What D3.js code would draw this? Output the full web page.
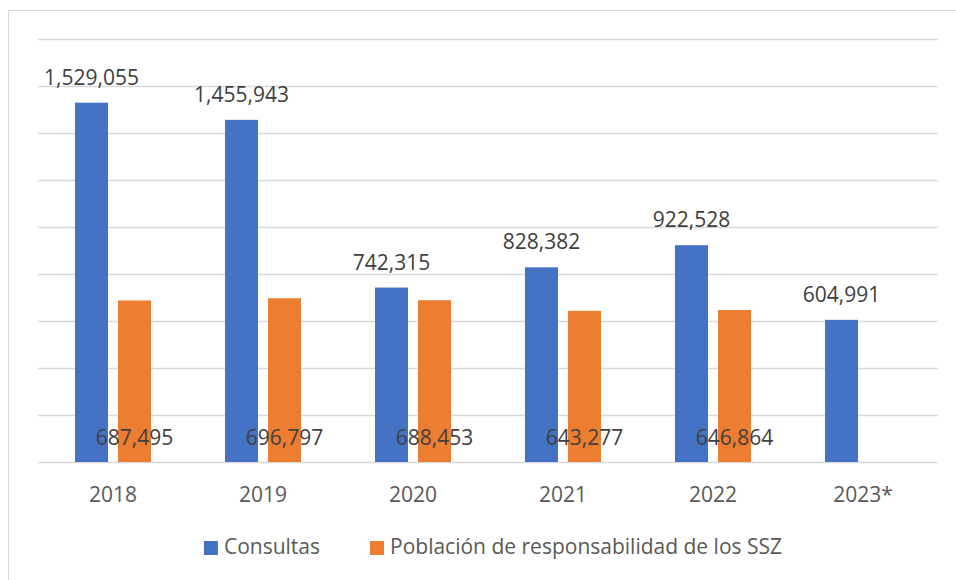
<!DOCTYPE html>
<html>
<head>
<meta charset="utf-8">
<script src="https://cdn.jsdelivr.net/npm/d3@7"></script>
<style>
  body { margin: 0; background: #fff; }
  text { font-family: "Open Sans", sans-serif; }
</style>
</head>
<body>
<div id="chart"></div>
<script>
// Data
const years = ["2018", "2019", "2020", "2021", "2022", "2023*"];
const consultas = [1529055, 1455943, 742315, 828382, 922528, 604991];
const poblacion = [687495, 696797, 688453, 643277, 646864, null];
const seriesNames = ["Consultas", "Población de responsabilidad de los SSZ"];
const colors = ["#4472c4", "#ed7d31"];

const width = 956;
const height = 580;
const margin = { top: 39, right: 18, bottom: 118, left: 38 };
const innerW = width - margin.left - margin.right;
const innerH = height - margin.top - margin.bottom;
const fontSize = "21px";

const svg = d3.select("#chart")
    .append("svg")
    .attr("width", width)
    .attr("height", height);

// outer frame
svg.append("rect")
    .attr("x", 8.5)
    .attr("y", 10.5)
    .attr("width", 1000)
    .attr("height", 1000)
    .attr("fill", "none")
    .attr("stroke", "#d9d9d9");

const g = svg.append("g")
    .attr("transform", `translate(${margin.left},${margin.top})`);

const x0 = d3.scaleBand()
    .domain(years)
    .range([0, innerW]);

const x1 = d3.scaleBand()
    .domain([0, 1])
    .range([0, x0.bandwidth()])
    .paddingInner(10 / 43)
    .paddingOuter(37 / 43);

const y = d3.scaleLinear()
    .domain([0, 1800000])
    .range([innerH, 0]);

// gridlines
const grid = g.append("g")
    .call(d3.axisLeft(y).ticks(9).tickSize(-innerW).tickFormat(""));
grid.select(".domain").remove();
grid.selectAll("line")
    .attr("stroke", "#d9d9d9")
    .attr("stroke-width", 1.3);

// x axis labels
const xAxis = g.append("g")
    .attr("transform", `translate(0,${innerH})`)
    .call(d3.axisBottom(x0).tickSize(0));
xAxis.select(".domain").remove();
xAxis.selectAll("text")
    .attr("y", 40)
    .attr("dy", null)
    .attr("fill", "#595959")
    .style("font-size", fontSize);

const rows = years.map((yr, i) => ({ year: yr, values: [consultas[i], poblacion[i]] }));

const groups = g.selectAll(".grp")
    .data(rows)
    .enter().append("g")
    .attr("class", "grp")
    .attr("transform", d => `translate(${x0(d.year)},0)`);

const cells = groups.selectAll(".cell")
    .data(d => d.values.map((v, k) => ({ k: k, v: v })).filter(d => d.v != null))
    .enter().append("g");

cells.append("rect")
    .attr("x", d => x1(d.k))
    .attr("width", x1.bandwidth())
    .attr("y", d => y(d.v))
    .attr("height", d => innerH - y(d.v))
    .attr("fill", d => colors[d.k]);

// value labels: blue on top of bar, orange inside at the base
cells.append("text")
    .attr("x", d => x1(d.k) + x1.bandwidth() / 2)
    .attr("y", d => d.k === 0 ? y(d.v) - 18 : innerH - 17)
    .attr("text-anchor", "middle")
    .attr("fill", "#404040")
    .style("font-size", fontSize)
    .text(d => d3.format(",")(d.v));

// legend
const legend = svg.append("g");
let lx = 0;
seriesNames.forEach((name, i) => {
    const item = legend.append("g").attr("transform", `translate(${lx},0)`);
    item.append("rect")
        .attr("x", 0)
        .attr("y", -13)
        .attr("width", 14)
        .attr("height", 14)
        .attr("fill", colors[i]);
    const t = item.append("text")
        .attr("x", 20)
        .attr("y", 0)
        .attr("fill", "#595959")
        .style("font-size", fontSize)
        .text(name);
    lx += 20 + t.node().getComputedTextLength() + 50;
});
const legendW = lx - 50;
legend.attr("transform", `translate(${(margin.left + innerW / 2) - legendW / 2 + 5},554)`);
</script>
</body>
</html>
